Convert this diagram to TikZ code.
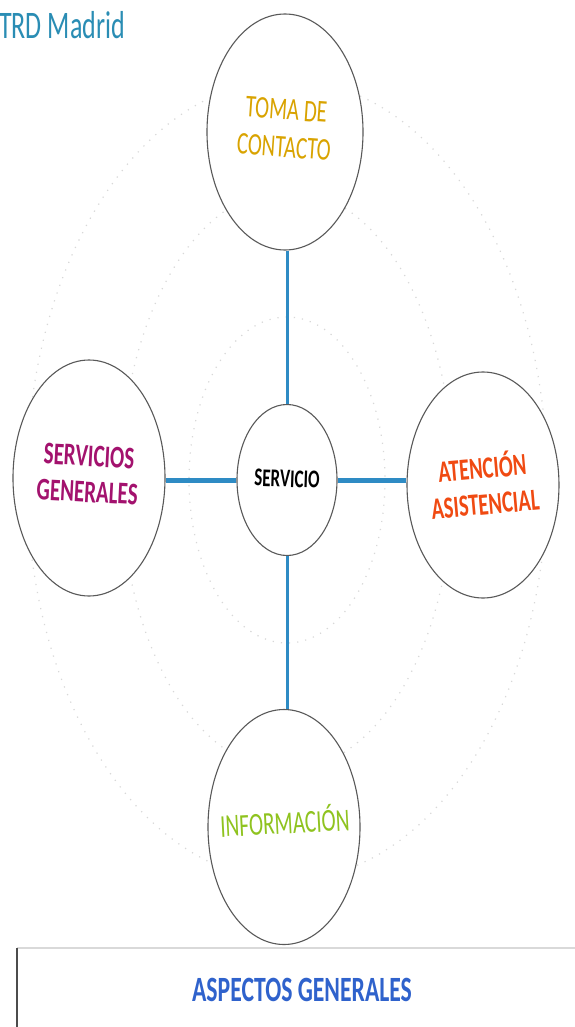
\documentclass[tikz,border=0pt]{standalone}
\usepackage{fontspec}
\setmainfont{Carlito}
\usetikzlibrary{shapes.geometric}
\definecolor{linkblue}{HTML}{2E8BC4}
\definecolor{titleblue}{HTML}{2A8DB4}
\definecolor{tomacol}{HTML}{D9A300}
\definecolor{servcol}{HTML}{A3126E}
\definecolor{atencol}{HTML}{F04A12}
\definecolor{infocol}{HTML}{8FC31F}
\definecolor{aspcol}{HTML}{2F62CC}
\definecolor{ringcol}{HTML}{D8D8D8}
\newcommand{\stxt}[2]{\rotatebox{#1}{\scalebox{1}[1.5]{\begin{tabular}{@{}c@{}}#2\end{tabular}}}}
\tikzset{
  bubble/.style={ellipse, draw=black!65, line width=1.1pt, fill=white, inner sep=0pt},
  ring/.style={draw=ringcol, line width=1.2pt, dash pattern=on 1.2pt off 7pt},
  link/.style={draw=linkblue, line width=#1},
  lbl/.style={inner sep=0pt, align=center}
}
\begin{document}
\begin{tikzpicture}[x=1pt,y=-1pt]
\useasboundingbox[fill=white] (0,0) rectangle (574,1027);
% faint background rings
\draw[ring] (287,480) ellipse [x radius=98, y radius=163];
\draw[ring] (287,480) ellipse [x radius=166, y radius=290];
\draw[ring] (287,480) ellipse [x radius=260, y radius=400];
% title
\node[lbl, anchor=west, text=titleblue, font=\fontsize{26}{30}\selectfont] (title) at (-1,30) {\stxt{0}{TRD Madrid}};
% bubbles
\node[bubble, minimum width=156pt, minimum height=236pt] (toma) at (285,132) {};
\node[bubble, minimum width=152pt, minimum height=236pt] (serv) at (89,478) {};
\node[bubble, minimum width=100pt, minimum height=151pt] (ctr) at (287,480) {};
\node[bubble, minimum width=152pt, minimum height=226pt] (aten) at (483,485) {};
\node[bubble, minimum width=152pt, minimum height=235pt] (info) at (284,827) {};
% connectors
\draw[link=3pt] (ctr.north |- toma.south) -- (ctr.north);
\draw[link=5pt] (serv.east |- ctr.west) -- (ctr.west);
\draw[link=5pt] (ctr.east) -- (aten.west |- ctr.east);
\draw[link=3pt] (ctr.south) -- (ctr.south |- info.north);
% labels
\node[lbl, text=tomacol, font=\fontsize{21}{25}\selectfont] (tomat) at (285,131) {\stxt{-4}{TOMA DE\\CONTACTO}};
\node[lbl, text=servcol, font=\bfseries\fontsize{21}{24}\selectfont] (servt) at (88,477) {\stxt{-3}{SERVICIOS\\GENERALES}};
\node[lbl, text=black, font=\bfseries\fontsize{17}{20}\selectfont] (ctrt) at (287,481) {\stxt{-2}{SERVICIO}};
\node[lbl, text=atencol, font=\bfseries\fontsize{20.5}{24}\selectfont] (atent) at (484,489) {\stxt{5}{ATENCIÓN\\ASISTENCIAL}};
\node[lbl, text=infocol, font=\fontsize{21.3}{25}\selectfont] (infot) at (285,826) {\stxt{3}{INFORMACIÓN}};
% bottom box
\draw[draw=black!15, line width=1.2pt] (17,948) -- (575,948);
\draw[draw=black!70, line width=1.3pt] (17,948) -- (17,1028);
\node[lbl, text=aspcol, font=\bfseries\fontsize{23.7}{28}\selectfont] (asp) at (302,993) {\stxt{0}{ASPECTOS GENERALES}};
\end{tikzpicture}
\end{document}
